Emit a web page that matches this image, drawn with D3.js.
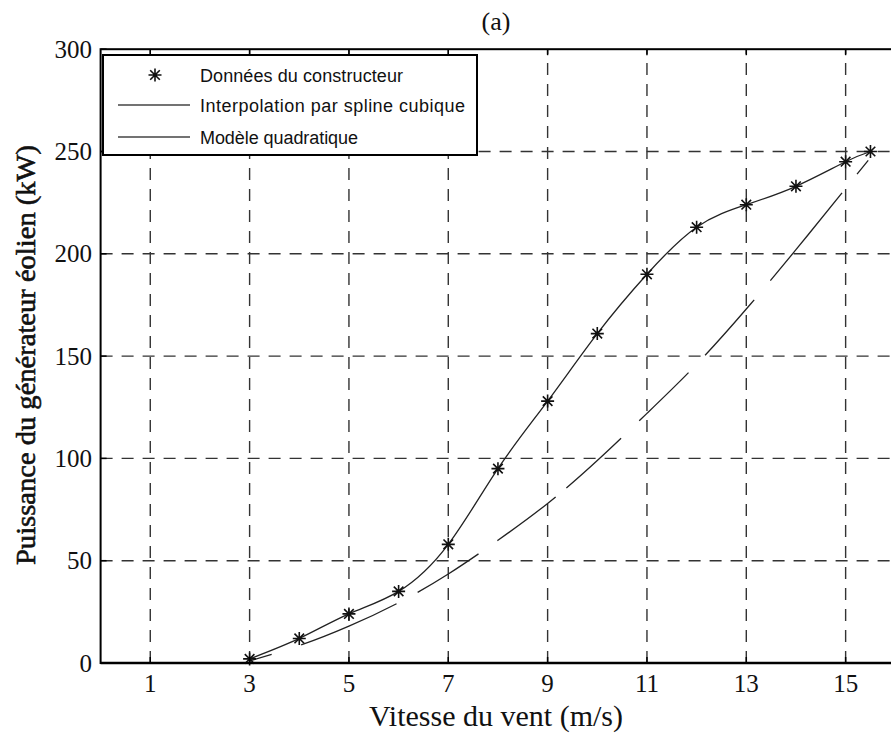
<!DOCTYPE html>
<html>
<head>
<meta charset="utf-8">
<script src="https://cdn.jsdelivr.net/npm/d3@7"></script>
<style>
  body { margin: 0; background: #fff; }
  text { font-family: "Liberation Serif", "Times New Roman", serif; fill: #111; }
  .legend text { font-family: "Liberation Sans", Arial, sans-serif; }
</style>
</head>
<body>
<div id="chart"></div>
<script>
// manufacturer data (stars) and the cubic spline through them
const windSpeed = [3, 4, 5, 6, 7, 8, 9, 10, 11, 12, 13, 14, 15, 15.5];
const makerPower = [2, 12, 24, 35, 58, 95, 128, 161, 190, 213, 224, 233, 245, 250];
// quadratic model
const quadSpeed = [3, 4, 5, 6, 7, 8, 9, 10, 11, 12, 13, 14, 15, 15.5];
const quadPower = [1, 8.5, 18, 29.5, 43.5, 60, 78, 99, 122, 146, 173, 202, 232, 247];
const xTicks = [1, 3, 5, 7, 9, 11, 13, 15];
const yTicks = [0, 50, 100, 150, 200, 250, 300];
const legendLabels = ['Données du constructeur', 'Interpolation par spline cubique', 'Modèle quadratique'];

const size = { width: 891, height: 737 };
const margin = { left: 100.6, top: 49.2, right: -4.3, bottom: 74 };

const svg = d3.select('#chart').append('svg')
  .attr('width', size.width)
  .attr('height', size.height);

const x = d3.scaleLinear().domain([0, 16]).range([margin.left, size.width - margin.right]);
const y = d3.scaleLinear().domain([0, 300]).range([size.height - margin.bottom, margin.top]);

drawGrid();
drawCurves();
drawAxes();
drawLegend();
drawTitles();

function drawGrid() {
  const grid = svg.append('g')
    .attr('stroke', '#333')
    .attr('stroke-width', 1.4)
    .attr('stroke-dasharray', '12,9');

  grid.selectAll('line.vx').data(xTicks).enter().append('line')
    .attr('class', 'vx')
    .attr('x1', d => x(d)).attr('x2', d => x(d))
    .attr('y1', y(0)).attr('y2', y(300));

  grid.selectAll('line.hy').data(yTicks.slice(1, -1)).enter().append('line')
    .attr('class', 'hy')
    .attr('x1', x(0)).attr('x2', x(16))
    .attr('y1', d => y(d)).attr('y2', d => y(d));
}

function drawStar(g, cx, cy) {
  const r = 6.5, q = 4.8;
  g.append('path')
    .attr('d', `M${cx - r},${cy}H${cx + r}M${cx},${cy - r}V${cy + r}` +
      `M${cx - q},${cy - q}L${cx + q},${cy + q}M${cx - q},${cy + q}L${cx + q},${cy - q}`)
    .attr('stroke', '#111')
    .attr('stroke-width', 1.6)
    .attr('fill', 'none');
}

function drawCurves() {
  const spline = d3.line()
    .x((d, i) => x(windSpeed[i]))
    .y(d => y(d))
    .curve(d3.curveNatural);

  svg.append('path')
    .attr('d', spline(makerPower))
    .attr('fill', 'none')
    .attr('stroke', '#222')
    .attr('stroke-width', 1.3);

  const quad = d3.line()
    .x((d, i) => x(quadSpeed[i]))
    .y(d => y(d))
    .curve(d3.curveNatural);

  svg.append('path')
    .attr('d', quad(quadPower))
    .attr('fill', 'none')
    .attr('stroke', '#222')
    .attr('stroke-width', 1.3)
    .attr('stroke-dasharray', '23,31,104,24,72,23,73,14,74,25,69,24,74,25,113,24,18');

  const stars = svg.append('g');
  makerPower.forEach((p, i) => drawStar(stars, x(windSpeed[i]), y(p)));
}

function drawAxes() {
  const axes = svg.append('g').attr('stroke', '#000').attr('fill', 'none');

  axes.append('rect')
    .attr('x', x(0)).attr('y', y(300))
    .attr('width', x(16) - x(0)).attr('height', y(0) - y(300))
    .attr('stroke-width', 2);

  axes.append('line')
    .attr('x1', x(0)).attr('x2', x(16))
    .attr('y1', y(0)).attr('y2', y(0))
    .attr('stroke-width', 2.6);

  const tickLen = 6;
  axes.selectAll('line.tb').data(xTicks).enter().append('line')
    .attr('class', 'tb')
    .attr('x1', d => x(d)).attr('x2', d => x(d))
    .attr('y1', y(0)).attr('y2', y(0) - tickLen)
    .attr('stroke-width', 1.5);

  axes.selectAll('line.tt').data(xTicks).enter().append('line')
    .attr('class', 'tt')
    .attr('x1', d => x(d)).attr('x2', d => x(d))
    .attr('y1', y(300)).attr('y2', y(300) + tickLen)
    .attr('stroke-width', 1.5);

  axes.selectAll('line.tl').data(yTicks).enter().append('line')
    .attr('class', 'tl')
    .attr('x1', x(0)).attr('x2', x(0) + tickLen)
    .attr('y1', d => y(d)).attr('y2', d => y(d))
    .attr('stroke-width', 1.5);

  svg.selectAll('text.xt').data(xTicks).enter().append('text')
    .attr('class', 'xt')
    .attr('x', d => x(d))
    .attr('y', 692)
    .attr('text-anchor', 'middle')
    .attr('font-size', 25)
    .text(d => d);

  svg.selectAll('text.yt').data(yTicks).enter().append('text')
    .attr('class', 'yt')
    .attr('x', 92)
    .attr('y', d => y(d) + 8.5)
    .attr('text-anchor', 'end')
    .attr('font-size', 25)
    .text(d => d);
}

function drawLegend() {
  const lg = svg.append('g').attr('class', 'legend');

  lg.append('rect')
    .attr('x', 103).attr('y', 55)
    .attr('width', 374).attr('height', 100)
    .attr('fill', '#fff')
    .attr('stroke', '#000')
    .attr('stroke-width', 2);

  const rows = [75, 105, 137];
  const widths = [203, 265, 158];
  drawStar(lg, 155, rows[0]);
  rows.slice(1).forEach(r => {
    lg.append('line')
      .attr('x1', 118).attr('x2', 190)
      .attr('y1', r).attr('y2', r)
      .attr('stroke', '#444')
      .attr('stroke-width', 1.4);
  });

  lg.selectAll('text').data(legendLabels).enter().append('text')
    .attr('x', 200)
    .attr('y', (d, i) => rows[i] + 6.5)
    .attr('font-size', 18)
    .attr('textLength', (d, i) => widths[i])
    .attr('lengthAdjust', 'spacing')
    .text(d => d);
}

function drawTitles() {
  svg.append('text')
    .attr('x', 496).attr('y', 30)
    .attr('text-anchor', 'middle')
    .attr('font-size', 26)
    .text('(a)');

  svg.append('text')
    .attr('x', 496).attr('y', 726)
    .attr('text-anchor', 'middle')
    .attr('font-size', 30)
    .text('Vitesse du vent (m/s)');

  // the y title looks heavier than the x title in the original
  svg.append('text')
    .attr('transform', 'translate(35,355) rotate(-90)')
    .attr('text-anchor', 'middle')
    .attr('font-size', 28)
    .attr('stroke', '#111')
    .attr('stroke-width', 0.6)
    .attr('textLength', 420)
    .attr('lengthAdjust', 'spacingAndGlyphs')
    .text('Puissance du générateur éolien (kW)');
}
</script>
</body>
</html>
